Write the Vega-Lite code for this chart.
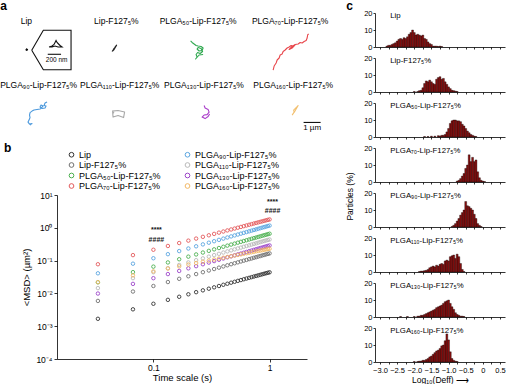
{
  "$schema": "https://vega.github.io/schema/vega-lite/v6.json",
  "padding": 0,
  "datasets": {
    "msd": [
      {"t":0.0333,"Lip":0.00168,"F127":0.0059,"P50":0.0218,"P70":0.0774,"P90":0.041,"P110":0.0145,"P130":0.0099,"P160":0.022},
      {"t":0.0667,"Lip":0.00327,"F127":0.0114,"P50":0.0445,"P70":0.147,"P90":0.0805,"P110":0.0292,"P130":0.0195,"P160":0.0355},
      {"t":0.1,"Lip":0.00483,"F127":0.0168,"P50":0.0655,"P70":0.214,"P90":0.118,"P110":0.0443,"P130":0.0291,"P160":0.047},
      {"t":0.1333,"Lip":0.00636,"F127":0.0222,"P50":0.0878,"P70":0.279,"P90":0.157,"P110":0.0588,"P130":0.0388,"P160":0.0573},
      {"t":0.1667,"Lip":0.00788,"F127":0.0278,"P50":0.11,"P70":0.343,"P90":0.195,"P110":0.0735,"P130":0.0484,"P160":0.0668},
      {"t":0.2,"Lip":0.00939,"F127":0.0333,"P50":0.132,"P70":0.406,"P90":0.234,"P110":0.088,"P130":0.0581,"P160":0.0758},
      {"t":0.2333,"Lip":0.0109,"F127":0.0388,"P50":0.154,"P70":0.469,"P90":0.273,"P110":0.103,"P130":0.0677,"P160":0.0843},
      {"t":0.2667,"Lip":0.0124,"F127":0.0443,"P50":0.176,"P70":0.53,"P90":0.312,"P110":0.117,"P130":0.0774,"P160":0.0924},
      {"t":0.3,"Lip":0.0139,"F127":0.0498,"P50":0.198,"P70":0.591,"P90":0.351,"P110":0.132,"P130":0.087,"P160":0.1},
      {"t":0.3333,"Lip":0.0153,"F127":0.0553,"P50":0.22,"P70":0.652,"P90":0.39,"P110":0.147,"P130":0.0967,"P160":0.108},
      {"t":0.3667,"Lip":0.0168,"F127":0.0609,"P50":0.242,"P70":0.712,"P90":0.429,"P110":0.161,"P130":0.106,"P160":0.115},
      {"t":0.4,"Lip":0.0183,"F127":0.0664,"P50":0.264,"P70":0.771,"P90":0.468,"P110":0.176,"P130":0.116,"P160":0.122},
      {"t":0.4333,"Lip":0.0197,"F127":0.0719,"P50":0.286,"P70":0.831,"P90":0.507,"P110":0.191,"P130":0.126,"P160":0.129},
      {"t":0.4667,"Lip":0.0212,"F127":0.0775,"P50":0.308,"P70":0.889,"P90":0.546,"P110":0.205,"P130":0.135,"P160":0.136},
      {"t":0.5,"Lip":0.0226,"F127":0.083,"P50":0.33,"P70":0.948,"P90":0.585,"P110":0.22,"P130":0.145,"P160":0.143},
      {"t":0.5333,"Lip":0.0241,"F127":0.0885,"P50":0.352,"P70":1.006,"P90":0.624,"P110":0.235,"P130":0.155,"P160":0.149},
      {"t":0.5667,"Lip":0.0255,"F127":0.0941,"P50":0.374,"P70":1.064,"P90":0.663,"P110":0.249,"P130":0.164,"P160":0.155},
      {"t":0.6,"Lip":0.027,"F127":0.0996,"P50":0.396,"P70":1.122,"P90":0.702,"P110":0.264,"P130":0.174,"P160":0.162},
      {"t":0.6333,"Lip":0.0284,"F127":0.105,"P50":0.418,"P70":1.18,"P90":0.741,"P110":0.279,"P130":0.184,"P160":0.168},
      {"t":0.6667,"Lip":0.0298,"F127":0.111,"P50":0.44,"P70":1.237,"P90":0.78,"P110":0.293,"P130":0.193,"P160":0.174},
      {"t":0.7,"Lip":0.0313,"F127":0.116,"P50":0.462,"P70":1.294,"P90":0.819,"P110":0.308,"P130":0.203,"P160":0.18},
      {"t":0.7333,"Lip":0.0327,"F127":0.122,"P50":0.484,"P70":1.351,"P90":0.858,"P110":0.323,"P130":0.213,"P160":0.186},
      {"t":0.7667,"Lip":0.0341,"F127":0.127,"P50":0.506,"P70":1.408,"P90":0.897,"P110":0.337,"P130":0.222,"P160":0.192},
      {"t":0.8,"Lip":0.0355,"F127":0.133,"P50":0.528,"P70":1.465,"P90":0.936,"P110":0.352,"P130":0.232,"P160":0.197},
      {"t":0.8333,"Lip":0.0369,"F127":0.138,"P50":0.55,"P70":1.521,"P90":0.975,"P110":0.367,"P130":0.242,"P160":0.203},
      {"t":0.8667,"Lip":0.0384,"F127":0.144,"P50":0.572,"P70":1.577,"P90":1.014,"P110":0.381,"P130":0.251,"P160":0.208},
      {"t":0.9,"Lip":0.0398,"F127":0.149,"P50":0.594,"P70":1.633,"P90":1.053,"P110":0.396,"P130":0.261,"P160":0.214},
      {"t":0.9333,"Lip":0.0412,"F127":0.155,"P50":0.616,"P70":1.689,"P90":1.092,"P110":0.411,"P130":0.271,"P160":0.219},
      {"t":0.9667,"Lip":0.0426,"F127":0.16,"P50":0.638,"P70":1.745,"P90":1.131,"P110":0.425,"P130":0.28,"P160":0.225},
      {"t":1,"Lip":0.044,"F127":0.166,"P50":0.66,"P70":1.8,"P90":1.17,"P110":0.44,"P130":0.29,"P160":0.23}
    ],
    "traj": [
      {"id":"Lip","o":1,"x":1.53,"y":2.75},{"id":"Lip","o":2,"x":1.62,"y":2.79},{"id":"Lip","o":3,"x":1.58,"y":2.85},{"id":"Lip","o":4,"x":1.52,"y":2.81},{"id":"Lip","o":5,"x":1.57,"y":2.76},{"id":"Lip","o":6,"x":1.6,"y":2.82},
      {"id":"F127","o":1,"x":6.588,"y":2.912},{"id":"F127","o":2,"x":6.647,"y":2.824},{"id":"F127","o":3,"x":6.676,"y":2.765},{"id":"F127","o":4,"x":6.735,"y":2.694},{"id":"F127","o":5,"x":6.794,"y":2.606},{"id":"F127","o":6,"x":6.853,"y":2.541},{"id":"F127","o":7,"x":6.794,"y":2.647},{"id":"F127","o":8,"x":6.706,"y":2.794},{"id":"F127","o":9,"x":6.618,"y":2.882},
      {"id":"P50","o":1,"x":11.206,"y":2.294},{"id":"P50","o":2,"x":11.294,"y":2.382},{"id":"P50","o":3,"x":11.412,"y":2.471},{"id":"P50","o":4,"x":11.529,"y":2.559},{"id":"P50","o":5,"x":11.647,"y":2.588},{"id":"P50","o":6,"x":11.824,"y":2.618},{"id":"P50","o":7,"x":11.941,"y":2.706},{"id":"P50","o":8,"x":11.882,"y":2.853},{"id":"P50","o":9,"x":11.706,"y":2.882},{"id":"P50","o":10,"x":11.588,"y":2.765},{"id":"P50","o":11,"x":11.647,"y":2.676},{"id":"P50","o":12,"x":11.824,"y":2.735},{"id":"P50","o":13,"x":11.912,"y":2.912},{"id":"P50","o":14,"x":11.765,"y":3.029},{"id":"P50","o":15,"x":11.618,"y":2.971},{"id":"P50","o":16,"x":11.529,"y":3.088},{"id":"P50","o":17,"x":11.588,"y":3.235},{"id":"P50","o":18,"x":11.5,"y":3.353},{"id":"P50","o":19,"x":11.706,"y":3.118},{"id":"P50","o":20,"x":11.941,"y":3.088},
      {"id":"P70","o":1,"x":16.059,"y":4.0},{"id":"P70","o":2,"x":16.118,"y":3.765},{"id":"P70","o":3,"x":16.235,"y":3.588},{"id":"P70","o":4,"x":16.294,"y":3.412},{"id":"P70","o":5,"x":16.412,"y":3.294},{"id":"P70","o":6,"x":16.471,"y":3.118},{"id":"P70","o":7,"x":16.588,"y":3.059},{"id":"P70","o":8,"x":16.647,"y":2.912},{"id":"P70","o":9,"x":16.765,"y":2.824},{"id":"P70","o":10,"x":16.882,"y":2.706},{"id":"P70","o":11,"x":17.0,"y":2.647},{"id":"P70","o":12,"x":17.118,"y":2.559},{"id":"P70","o":13,"x":17.235,"y":2.588},{"id":"P70","o":14,"x":17.353,"y":2.529},{"id":"P70","o":15,"x":17.176,"y":2.706},{"id":"P70","o":16,"x":17.0,"y":2.794},{"id":"P70","o":17,"x":17.176,"y":2.618},{"id":"P70","o":18,"x":17.353,"y":2.5},{"id":"P70","o":19,"x":17.529,"y":2.471},{"id":"P70","o":20,"x":17.647,"y":2.382},{"id":"P70","o":21,"x":17.765,"y":2.412},{"id":"P70","o":22,"x":17.882,"y":2.324},{"id":"P70","o":23,"x":18.0,"y":2.265},{"id":"P70","o":24,"x":18.059,"y":2.118},{"id":"P70","o":25,"x":18.088,"y":1.941},{"id":"P70","o":26,"x":18.147,"y":1.871},
      {"id":"P90","o":1,"x":2.765,"y":5.882},{"id":"P90","o":2,"x":2.647,"y":5.941},{"id":"P90","o":3,"x":2.588,"y":6.088},{"id":"P90","o":4,"x":2.706,"y":6.118},{"id":"P90","o":5,"x":2.647,"y":6.235},{"id":"P90","o":6,"x":2.471,"y":6.265},{"id":"P90","o":7,"x":2.353,"y":6.176},{"id":"P90","o":8,"x":2.412,"y":6.059},{"id":"P90","o":9,"x":2.529,"y":6.118},{"id":"P90","o":10,"x":2.353,"y":6.294},{"id":"P90","o":11,"x":2.176,"y":6.324},{"id":"P90","o":12,"x":2.0,"y":6.353},{"id":"P90","o":13,"x":1.882,"y":6.412},{"id":"P90","o":14,"x":1.765,"y":6.5},{"id":"P90","o":15,"x":1.735,"y":6.647},{"id":"P90","o":16,"x":1.765,"y":6.794},{"id":"P90","o":17,"x":1.706,"y":6.941},{"id":"P90","o":18,"x":1.647,"y":7.059},{"id":"P90","o":19,"x":1.735,"y":7.176},{"id":"P90","o":20,"x":1.882,"y":7.147},{"id":"P90","o":21,"x":1.765,"y":7.235},
      {"id":"P110","o":1,"x":6.588,"y":6.412},{"id":"P110","o":2,"x":6.941,"y":6.382},{"id":"P110","o":3,"x":7.324,"y":6.471},{"id":"P110","o":4,"x":7.265,"y":6.794},{"id":"P110","o":5,"x":6.941,"y":6.676},{"id":"P110","o":6,"x":6.647,"y":6.765},{"id":"P110","o":7,"x":6.618,"y":6.441},{"id":"P110","o":8,"x":6.706,"y":6.529},
      {"id":"P130","o":1,"x":12.0,"y":6.088},{"id":"P130","o":2,"x":12.059,"y":6.235},{"id":"P130","o":3,"x":12.235,"y":6.324},{"id":"P130","o":4,"x":12.294,"y":6.471},{"id":"P130","o":5,"x":12.176,"y":6.618},{"id":"P130","o":6,"x":12.0,"y":6.647},{"id":"P130","o":7,"x":11.882,"y":6.765},{"id":"P130","o":8,"x":12.059,"y":6.853},{"id":"P130","o":9,"x":12.235,"y":6.735},{"id":"P130","o":10,"x":12.324,"y":6.588},
      {"id":"P160","o":1,"x":17.176,"y":6.647},{"id":"P160","o":2,"x":17.294,"y":6.471},{"id":"P160","o":3,"x":17.265,"y":6.353},{"id":"P160","o":4,"x":17.382,"y":6.235},{"id":"P160","o":5,"x":17.471,"y":6.147},{"id":"P160","o":6,"x":17.529,"y":6.088},{"id":"P160","o":7,"x":17.412,"y":6.294},{"id":"P160","o":8,"x":17.294,"y":6.5}
    ],
    "guides": [
      {"id":"frame","o":1,"x":1.865,"y":2.841},{"id":"frame","o":2,"x":2.547,"y":1.665},{"id":"frame","o":3,"x":4.176,"y":1.665},{"id":"frame","o":4,"x":4.176,"y":3.982},{"id":"frame","o":5,"x":2.547,"y":3.982},{"id":"frame","o":6,"x":1.865,"y":2.841},
      {"id":"blob","o":1,"x":2.882,"y":2.647},{"id":"blob","o":2,"x":3.059,"y":2.588},{"id":"blob","o":3,"x":3.176,"y":2.5},{"id":"blob","o":4,"x":3.235,"y":2.382},{"id":"blob","o":5,"x":3.294,"y":2.265},{"id":"blob","o":6,"x":3.353,"y":2.382},{"id":"blob","o":7,"x":3.441,"y":2.471},{"id":"blob","o":8,"x":3.529,"y":2.559},{"id":"blob","o":9,"x":3.647,"y":2.647},{"id":"blob","o":10,"x":3.412,"y":2.647},{"id":"blob","o":11,"x":3.235,"y":2.588},{"id":"blob","o":12,"x":3.059,"y":2.647},{"id":"blob","o":13,"x":2.882,"y":2.647},
      {"id":"bar200","o":1,"x":2.806,"y":3.076},{"id":"bar200","o":2,"x":3.588,"y":3.076},
      {"id":"bar1","o":1,"x":17.85,"y":7.08},{"id":"bar1","o":2,"x":18.85,"y":7.08}
    ],
    "alabels": [
      {"label":"Lip","x":1.55,"y":1.135},
      {"label":"Lip-F127₅%","x":6.84,"y":1.135},
      {"label":"PLGA₅₀-Lip-F127₅%","x":11.65,"y":1.135},
      {"label":"PLGA₇₀-Lip-F127₅%","x":17.06,"y":1.135},
      {"label":"PLGA₉₀-Lip-F127₅%","x":2.27,"y":4.865},
      {"label":"PLGA₁₁₀-Lip-F127₅%","x":7.04,"y":4.865},
      {"label":"PLGA₁₃₀-Lip-F127₅%","x":11.99,"y":4.865},
      {"label":"PLGA₁₆₀-Lip-F127₅%","x":17.24,"y":4.865}
    ],
    "hist": [
      {"g":"Lip","v":-2.8,"p":0.5},{"g":"Lip","v":-2.75,"p":1},{"g":"Lip","v":-2.7,"p":1},{"g":"Lip","v":-2.65,"p":1.5},{"g":"Lip","v":-2.6,"p":2},{"g":"Lip","v":-2.55,"p":2.5},{"g":"Lip","v":-2.5,"p":3.5},{"g":"Lip","v":-2.45,"p":4.5},{"g":"Lip","v":-2.4,"p":5},{"g":"Lip","v":-2.35,"p":4.5},{"g":"Lip","v":-2.3,"p":5.5},{"g":"Lip","v":-2.25,"p":5},{"g":"Lip","v":-2.2,"p":6},{"g":"Lip","v":-2.15,"p":7.5},{"g":"Lip","v":-2.1,"p":8.5},{"g":"Lip","v":-2.05,"p":10},{"g":"Lip","v":-2.0,"p":8.5},{"g":"Lip","v":-1.95,"p":7},{"g":"Lip","v":-1.9,"p":7.5},{"g":"Lip","v":-1.85,"p":7},{"g":"Lip","v":-1.8,"p":6.5},{"g":"Lip","v":-1.75,"p":7},{"g":"Lip","v":-1.7,"p":5},{"g":"Lip","v":-1.65,"p":4.5},{"g":"Lip","v":-1.6,"p":3},{"g":"Lip","v":-1.55,"p":2},{"g":"Lip","v":-1.5,"p":1.5},{"g":"Lip","v":-1.45,"p":0.5},{"g":"Lip","v":-1.4,"p":0.5},{"g":"Lip","v":-1.35,"p":0.5},{"g":"Lip","v":-1.3,"p":0.3},{"g":"Lip","v":-1.25,"p":0.5},{"g":"Lip","v":-1.2,"p":0.3},
      {"g":"F127","v":-2.0,"p":0.3},{"g":"F127","v":-1.9,"p":0.3},{"g":"F127","v":-1.85,"p":0.8},{"g":"F127","v":-1.8,"p":1},{"g":"F127","v":-1.75,"p":2.5},{"g":"F127","v":-1.7,"p":5},{"g":"F127","v":-1.65,"p":6.5},{"g":"F127","v":-1.6,"p":6},{"g":"F127","v":-1.55,"p":7},{"g":"F127","v":-1.5,"p":6},{"g":"F127","v":-1.45,"p":5},{"g":"F127","v":-1.4,"p":4.5},{"g":"F127","v":-1.35,"p":7.5},{"g":"F127","v":-1.3,"p":8.5},{"g":"F127","v":-1.25,"p":9},{"g":"F127","v":-1.2,"p":7.5},{"g":"F127","v":-1.15,"p":8},{"g":"F127","v":-1.1,"p":6},{"g":"F127","v":-1.05,"p":4.5},{"g":"F127","v":-1.0,"p":3},{"g":"F127","v":-0.95,"p":2},{"g":"F127","v":-0.9,"p":1},{"g":"F127","v":-0.85,"p":0.8},{"g":"F127","v":-0.8,"p":0.5},{"g":"F127","v":-0.75,"p":0.3},
      {"g":"P50","v":-1.7,"p":0.3},{"g":"P50","v":-1.6,"p":0.3},{"g":"P50","v":-1.5,"p":0.5},{"g":"P50","v":-1.4,"p":0.5},{"g":"P50","v":-1.3,"p":0.8},{"g":"P50","v":-1.25,"p":0.5},{"g":"P50","v":-1.2,"p":1},{"g":"P50","v":-1.15,"p":1},{"g":"P50","v":-1.1,"p":1.5},{"g":"P50","v":-1.05,"p":3},{"g":"P50","v":-1.0,"p":5},{"g":"P50","v":-0.95,"p":8},{"g":"P50","v":-0.9,"p":9.5},{"g":"P50","v":-0.85,"p":10},{"g":"P50","v":-0.8,"p":10},{"g":"P50","v":-0.75,"p":9.5},{"g":"P50","v":-0.7,"p":9.5},{"g":"P50","v":-0.65,"p":9},{"g":"P50","v":-0.6,"p":7.5},{"g":"P50","v":-0.55,"p":6.5},{"g":"P50","v":-0.5,"p":5},{"g":"P50","v":-0.45,"p":3.5},{"g":"P50","v":-0.4,"p":2.5},{"g":"P50","v":-0.35,"p":1.5},{"g":"P50","v":-0.3,"p":1},{"g":"P50","v":-0.25,"p":0.5},{"g":"P50","v":-0.2,"p":0.3},
      {"g":"P70","v":-0.75,"p":0.5},{"g":"P70","v":-0.7,"p":1},{"g":"P70","v":-0.65,"p":2},{"g":"P70","v":-0.6,"p":3.5},{"g":"P70","v":-0.55,"p":5},{"g":"P70","v":-0.5,"p":8},{"g":"P70","v":-0.45,"p":10},{"g":"P70","v":-0.4,"p":16},{"g":"P70","v":-0.35,"p":12},{"g":"P70","v":-0.3,"p":14.5},{"g":"P70","v":-0.25,"p":12},{"g":"P70","v":-0.2,"p":13},{"g":"P70","v":-0.15,"p":6},{"g":"P70","v":-0.1,"p":2.5},{"g":"P70","v":-0.05,"p":1},{"g":"P70","v":0.0,"p":0.5},{"g":"P70","v":0.05,"p":0.3},
      {"g":"P90","v":-0.9,"p":0.3},{"g":"P90","v":-0.85,"p":1},{"g":"P90","v":-0.8,"p":2},{"g":"P90","v":-0.75,"p":3.5},{"g":"P90","v":-0.7,"p":5},{"g":"P90","v":-0.65,"p":7},{"g":"P90","v":-0.6,"p":8.5},{"g":"P90","v":-0.55,"p":10},{"g":"P90","v":-0.5,"p":15},{"g":"P90","v":-0.45,"p":12.5},{"g":"P90","v":-0.4,"p":12},{"g":"P90","v":-0.35,"p":11},{"g":"P90","v":-0.3,"p":10},{"g":"P90","v":-0.25,"p":7.5},{"g":"P90","v":-0.2,"p":5},{"g":"P90","v":-0.15,"p":2},{"g":"P90","v":-0.1,"p":1},{"g":"P90","v":-0.05,"p":0.3},
      {"g":"P110","v":-1.85,"p":0.3},{"g":"P110","v":-1.8,"p":0.5},{"g":"P110","v":-1.75,"p":0.5},{"g":"P110","v":-1.7,"p":0.8},{"g":"P110","v":-1.65,"p":1},{"g":"P110","v":-1.6,"p":1.5},{"g":"P110","v":-1.55,"p":2.5},{"g":"P110","v":-1.5,"p":3},{"g":"P110","v":-1.45,"p":3.5},{"g":"P110","v":-1.4,"p":3},{"g":"P110","v":-1.35,"p":4},{"g":"P110","v":-1.3,"p":3.5},{"g":"P110","v":-1.25,"p":4.5},{"g":"P110","v":-1.2,"p":5},{"g":"P110","v":-1.15,"p":4.5},{"g":"P110","v":-1.1,"p":6.5},{"g":"P110","v":-1.05,"p":7},{"g":"P110","v":-1.0,"p":6.5},{"g":"P110","v":-0.95,"p":9},{"g":"P110","v":-0.9,"p":9.5},{"g":"P110","v":-0.85,"p":10},{"g":"P110","v":-0.8,"p":8},{"g":"P110","v":-0.75,"p":10.5},{"g":"P110","v":-0.7,"p":9},{"g":"P110","v":-0.65,"p":5},{"g":"P110","v":-0.6,"p":1.5},{"g":"P110","v":-0.55,"p":0.3},
      {"g":"P130","v":-2.4,"p":0.3},{"g":"P130","v":-2.2,"p":0.3},{"g":"P130","v":-2.0,"p":0.3},{"g":"P130","v":-1.9,"p":0.5},{"g":"P130","v":-1.85,"p":0.5},{"g":"P130","v":-1.8,"p":1},{"g":"P130","v":-1.75,"p":1},{"g":"P130","v":-1.7,"p":1.5},{"g":"P130","v":-1.65,"p":2},{"g":"P130","v":-1.6,"p":2.5},{"g":"P130","v":-1.55,"p":3},{"g":"P130","v":-1.5,"p":3.5},{"g":"P130","v":-1.45,"p":4},{"g":"P130","v":-1.4,"p":4.5},{"g":"P130","v":-1.35,"p":5.5},{"g":"P130","v":-1.3,"p":6},{"g":"P130","v":-1.25,"p":6.5},{"g":"P130","v":-1.2,"p":7},{"g":"P130","v":-1.15,"p":8},{"g":"P130","v":-1.1,"p":9},{"g":"P130","v":-1.05,"p":9.5},{"g":"P130","v":-1.0,"p":10},{"g":"P130","v":-0.95,"p":8},{"g":"P130","v":-0.9,"p":6},{"g":"P130","v":-0.85,"p":4.5},{"g":"P130","v":-0.8,"p":2.5},{"g":"P130","v":-0.75,"p":1.5},{"g":"P130","v":-0.7,"p":1},{"g":"P130","v":-0.65,"p":0.5},{"g":"P130","v":-0.6,"p":0.5},{"g":"P130","v":-0.55,"p":0.3},
      {"g":"P160","v":-2.0,"p":0.3},{"g":"P160","v":-1.9,"p":0.3},{"g":"P160","v":-1.85,"p":0.5},{"g":"P160","v":-1.8,"p":0.5},{"g":"P160","v":-1.75,"p":1},{"g":"P160","v":-1.7,"p":1},{"g":"P160","v":-1.65,"p":1.5},{"g":"P160","v":-1.6,"p":2},{"g":"P160","v":-1.55,"p":3},{"g":"P160","v":-1.5,"p":3.5},{"g":"P160","v":-1.45,"p":4.5},{"g":"P160","v":-1.4,"p":5.5},{"g":"P160","v":-1.35,"p":6.5},{"g":"P160","v":-1.3,"p":7},{"g":"P160","v":-1.25,"p":8},{"g":"P160","v":-1.2,"p":9.5},{"g":"P160","v":-1.15,"p":10},{"g":"P160","v":-1.1,"p":12.5},{"g":"P160","v":-1.05,"p":16.5},{"g":"P160","v":-1.0,"p":13},{"g":"P160","v":-0.95,"p":6},{"g":"P160","v":-0.9,"p":2},{"g":"P160","v":-0.85,"p":1},{"g":"P160","v":-0.8,"p":0.5},{"g":"P160","v":-0.75,"p":0.3}
    ]
  },
  "hconcat": [
    {
      "vconcat": [
        {
          "width": 250,
          "height": 120,
          "title": {"text": "a", "offset": 0},
          "layer": [
            {
              "data": {"name": "traj"},
              "mark": {"type": "line", "strokeWidth": 1.1, "strokeJoin": "round"},
              "encoding": {
                "x": {"field": "x", "type": "quantitative", "scale": {"domain": [3.35, 18.05], "nice": false, "zero": false}, "axis": null},
                "y": {"field": "y", "type": "quantitative", "scale": {"domain": [0.65, 7.7], "nice": false, "zero": false, "reverse": true}, "axis": null},
                "detail": {"field": "id"},
                "order": {"field": "o"},
                "color": {"field": "id", "type": "nominal", "legend": null,
                  "scale": {"domain": ["Lip","F127","P50","P70","P90","P110","P130","P160"], "range": ["#111111","#222222","#2fa84f","#e8474c","#4a98dc","#a8a8a8","#a93cc9","#f2c070"]}}
              }
            },
            {
              "data": {"name": "guides"},
              "mark": {"type": "line", "strokeWidth": 1.1, "color": "#111111"},
              "encoding": {
                "x": {"field": "x", "type": "quantitative"},
                "y": {"field": "y", "type": "quantitative"},
                "detail": {"field": "id"},
                "order": {"field": "o"}
              }
            },
            {
              "data": {"name": "alabels"},
              "mark": {"type": "text", "fontSize": 8.5, "baseline": "middle", "align": "center", "color": "#000"},
              "encoding": {
                "x": {"field": "x", "type": "quantitative"},
                "y": {"field": "y", "type": "quantitative"},
                "text": {"field": "label"}
              }
            },
            {
              "data": {"values": [{"label": "200 nm", "x": 3.33, "y": 3.4}]},
              "mark": {"type": "text", "fontSize": 6.5, "baseline": "middle", "align": "center", "color": "#000"},
              "encoding": {
                "x": {"field": "x", "type": "quantitative"},
                "y": {"field": "y", "type": "quantitative"},
                "text": {"field": "label"}
              }
            },
            {
              "data": {"values": [{"label": "1 µm", "x": 18.35, "y": 7.42}]},
              "mark": {"type": "text", "fontSize": 8, "baseline": "middle", "align": "center", "color": "#000"},
              "encoding": {
                "x": {"field": "x", "type": "quantitative"},
                "y": {"field": "y", "type": "quantitative"},
                "text": {"field": "label"}
              }
            }
          ]
        },
        {
          "width": 250,
          "height": 164,
          "title": {"text": "b", "dx": -18, "offset": -5},
          "layer": [
            {
              "data": {"name": "msd"},
              "transform": [{"fold": ["Lip","F127","P50","P70","P90","P110","P130","P160"], "as": ["series", "msd"]}],
              "mark": {"type": "point", "shape": "circle", "filled": false, "size": 12, "strokeWidth": 0.9, "opacity": 1},
              "encoding": {
                "x": {"field": "t", "type": "quantitative",
                  "scale": {"type": "log", "domain": [0.0148, 2.1], "nice": false},
                  "axis": {"values": [0.1, 1], "labelExpr": "datum.value < 0.5 ? '0.1' : '1'", "title": "Time scale (s)", "labelFontSize": 8.5, "titleFontSize": 9.5, "tickSize": 3, "labelPadding": 1, "titlePadding": 1}},
                "y": {"field": "msd", "type": "quantitative",
                  "scale": {"type": "log", "domain": [0.0001, 10], "nice": false},
                  "axis": {"values": [0.0001, 0.001, 0.01, 0.1, 1, 10], "labelExpr": "['10⁻⁴','10⁻³','10⁻²','10⁻¹','10⁰','10¹'][round(log(datum.value)/LN10)+4]", "title": "<MSD> (µm²)", "labelFontSize": 8.5, "titleFontSize": 9.5, "tickSize": 3, "labelPadding": 2, "titlePadding": 4}},
                "color": {"field": "series", "type": "nominal",
                  "scale": {"domain": ["Lip","F127","P50","P70","P90","P110","P130","P160"], "range": ["#333333","#707070","#4cb050","#e35a5c","#5aa5e0","#b9b9b9","#9c45c9","#f2b865"]},
                  "legend": {"title": null, "orient": "none", "legendX": 10, "legendY": -45, "columns": 2, "direction": "vertical", "columnPadding": 22, "rowPadding": 0.5, "labelFontSize": 9, "symbolSize": 22, "symbolStrokeWidth": 1, "symbolType": "circle", "labelOffset": 3, "padding": 0,
                    "labelExpr": "datum.label == 'Lip' ? 'Lip' : datum.label == 'F127' ? 'Lip-F127₅%' : datum.label == 'P50' ? 'PLGA₅₀-Lip-F127₅%' : datum.label == 'P70' ? 'PLGA₇₀-Lip-F127₅%' : datum.label == 'P90' ? 'PLGA₉₀-Lip-F127₅%' : datum.label == 'P110' ? 'PLGA₁₁₀-Lip-F127₅%' : datum.label == 'P130' ? 'PLGA₁₃₀-Lip-F127₅%' : 'PLGA₁₆₀-Lip-F127₅%'"}}
              }
            },
            {
              "data": {"values": [{"t": 0.1, "y": 0.85, "s": "****"}, {"t": 0.1, "y": 0.43, "s": "####"}, {"t": 1, "y": 6.2, "s": "****"}, {"t": 1, "y": 3.3, "s": "####"}]},
              "mark": {"type": "text", "fontSize": 7, "fontWeight": "bold", "dx": 3, "baseline": "middle", "color": "#111"},
              "encoding": {
                "x": {"field": "t", "type": "quantitative"},
                "y": {"field": "y", "type": "quantitative"},
                "text": {"field": "s"}
              }
            }
          ]
        }
      ],
      "spacing": 9,
      "resolve": {"scale": {"x": "independent", "y": "independent", "color": "independent"}}
    },
    {
      "title": {"text": "c", "offset": -4},
      "vconcat": [
        {
          "title": {"text": "Particles (%)", "orient": "left", "anchor": "middle", "frame": "bounds", "fontSize": 8.5, "fontWeight": "normal", "offset": 9},
          "spacing": 3,
          "vconcat": [
            {"width": 130, "height": 34,
             "encoding": {"x": {"field": "v", "type": "quantitative", "scale": {"domain": [-3, 0.5], "nice": false, "zero": false}, "axis": {"values": [-3,-2.75,-2.5,-2.25,-2,-1.75,-1.5,-1.25,-1,-0.75,-0.5,-0.25,0,0.25,0.5], "labels": false, "title": null, "tickSize": 2}},
                          "y": {"field": "p", "type": "quantitative", "scale": {"domain": [0, 20], "nice": false}, "axis": {"values": [0, 10, 20], "labelOverlap": false, "labelColor": "#000", "labelOpacity": 1, "title": null, "labelFontSize": 7.5, "tickSize": 2, "labelPadding": 1}}},
             "layer": [
              {"data": {"name": "hist"}, "transform": [{"filter": "datum.g == 'Lip'"}], "mark": {"type": "bar", "width": 1.9, "fill": "#8c0f0f", "stroke": "#000", "strokeWidth": 0.35}},
              {"data": {"values": [{"label": "Lip", "v": -2.7, "p": 18.5}]}, "mark": {"type": "text", "align": "left", "baseline": "middle", "fontSize": 7.8, "color": "#000"}, "encoding": {"text": {"field": "label"}}}
            ]},
            {"width": 130, "height": 34,
             "encoding": {"x": {"field": "v", "type": "quantitative", "scale": {"domain": [-3, 0.5], "nice": false, "zero": false}, "axis": {"values": [-3,-2.75,-2.5,-2.25,-2,-1.75,-1.5,-1.25,-1,-0.75,-0.5,-0.25,0,0.25,0.5], "labels": false, "title": null, "tickSize": 2}},
                          "y": {"field": "p", "type": "quantitative", "scale": {"domain": [0, 20], "nice": false}, "axis": {"values": [0, 10, 20], "labelOverlap": false, "labelColor": "#000", "labelOpacity": 1, "title": null, "labelFontSize": 7.5, "tickSize": 2, "labelPadding": 1}}},
             "layer": [
              {"data": {"name": "hist"}, "transform": [{"filter": "datum.g == 'F127'"}], "mark": {"type": "bar", "width": 1.9, "fill": "#8c0f0f", "stroke": "#000", "strokeWidth": 0.35}},
              {"data": {"values": [{"label": "Lip-F127₅%", "v": -2.7, "p": 18.5}]}, "mark": {"type": "text", "align": "left", "baseline": "middle", "fontSize": 7.8, "color": "#000"}, "encoding": {"text": {"field": "label"}}}
            ]},
            {"width": 130, "height": 34,
             "encoding": {"x": {"field": "v", "type": "quantitative", "scale": {"domain": [-3, 0.5], "nice": false, "zero": false}, "axis": {"values": [-3,-2.75,-2.5,-2.25,-2,-1.75,-1.5,-1.25,-1,-0.75,-0.5,-0.25,0,0.25,0.5], "labels": false, "title": null, "tickSize": 2}},
                          "y": {"field": "p", "type": "quantitative", "scale": {"domain": [0, 20], "nice": false}, "axis": {"values": [0, 10, 20], "labelOverlap": false, "labelColor": "#000", "labelOpacity": 1, "title": null, "labelFontSize": 7.5, "tickSize": 2, "labelPadding": 1}}},
             "layer": [
              {"data": {"name": "hist"}, "transform": [{"filter": "datum.g == 'P50'"}], "mark": {"type": "bar", "width": 1.9, "fill": "#8c0f0f", "stroke": "#000", "strokeWidth": 0.35}},
              {"data": {"values": [{"label": "PLGA₅₀-Lip-F127₅%", "v": -2.7, "p": 18.5}]}, "mark": {"type": "text", "align": "left", "baseline": "middle", "fontSize": 7.8, "color": "#000"}, "encoding": {"text": {"field": "label"}}}
            ]},
            {"width": 130, "height": 34,
             "encoding": {"x": {"field": "v", "type": "quantitative", "scale": {"domain": [-3, 0.5], "nice": false, "zero": false}, "axis": {"values": [-3,-2.75,-2.5,-2.25,-2,-1.75,-1.5,-1.25,-1,-0.75,-0.5,-0.25,0,0.25,0.5], "labels": false, "title": null, "tickSize": 2}},
                          "y": {"field": "p", "type": "quantitative", "scale": {"domain": [0, 20], "nice": false}, "axis": {"values": [0, 10, 20], "labelOverlap": false, "labelColor": "#000", "labelOpacity": 1, "title": null, "labelFontSize": 7.5, "tickSize": 2, "labelPadding": 1}}},
             "layer": [
              {"data": {"name": "hist"}, "transform": [{"filter": "datum.g == 'P70'"}], "mark": {"type": "bar", "width": 1.9, "fill": "#8c0f0f", "stroke": "#000", "strokeWidth": 0.35}},
              {"data": {"values": [{"label": "PLGA₇₀-Lip-F127₅%", "v": -2.7, "p": 18.5}]}, "mark": {"type": "text", "align": "left", "baseline": "middle", "fontSize": 7.8, "color": "#000"}, "encoding": {"text": {"field": "label"}}}
            ]},
            {"width": 130, "height": 34,
             "encoding": {"x": {"field": "v", "type": "quantitative", "scale": {"domain": [-3, 0.5], "nice": false, "zero": false}, "axis": {"values": [-3,-2.75,-2.5,-2.25,-2,-1.75,-1.5,-1.25,-1,-0.75,-0.5,-0.25,0,0.25,0.5], "labels": false, "title": null, "tickSize": 2}},
                          "y": {"field": "p", "type": "quantitative", "scale": {"domain": [0, 20], "nice": false}, "axis": {"values": [0, 10, 20], "labelOverlap": false, "labelColor": "#000", "labelOpacity": 1, "title": null, "labelFontSize": 7.5, "tickSize": 2, "labelPadding": 1}}},
             "layer": [
              {"data": {"name": "hist"}, "transform": [{"filter": "datum.g == 'P90'"}], "mark": {"type": "bar", "width": 1.9, "fill": "#8c0f0f", "stroke": "#000", "strokeWidth": 0.35}},
              {"data": {"values": [{"label": "PLGA₉₀-Lip-F127₅%", "v": -2.7, "p": 18.5}]}, "mark": {"type": "text", "align": "left", "baseline": "middle", "fontSize": 7.8, "color": "#000"}, "encoding": {"text": {"field": "label"}}}
            ]},
            {"width": 130, "height": 34,
             "encoding": {"x": {"field": "v", "type": "quantitative", "scale": {"domain": [-3, 0.5], "nice": false, "zero": false}, "axis": {"values": [-3,-2.75,-2.5,-2.25,-2,-1.75,-1.5,-1.25,-1,-0.75,-0.5,-0.25,0,0.25,0.5], "labels": false, "title": null, "tickSize": 2}},
                          "y": {"field": "p", "type": "quantitative", "scale": {"domain": [0, 20], "nice": false}, "axis": {"values": [0, 10, 20], "labelOverlap": false, "labelColor": "#000", "labelOpacity": 1, "title": null, "labelFontSize": 7.5, "tickSize": 2, "labelPadding": 1}}},
             "layer": [
              {"data": {"name": "hist"}, "transform": [{"filter": "datum.g == 'P110'"}], "mark": {"type": "bar", "width": 1.9, "fill": "#8c0f0f", "stroke": "#000", "strokeWidth": 0.35}},
              {"data": {"values": [{"label": "PLGA₁₁₀-Lip-F127₅%", "v": -2.7, "p": 18.5}]}, "mark": {"type": "text", "align": "left", "baseline": "middle", "fontSize": 7.8, "color": "#000"}, "encoding": {"text": {"field": "label"}}}
            ]},
            {"width": 130, "height": 34,
             "encoding": {"x": {"field": "v", "type": "quantitative", "scale": {"domain": [-3, 0.5], "nice": false, "zero": false}, "axis": {"values": [-3,-2.75,-2.5,-2.25,-2,-1.75,-1.5,-1.25,-1,-0.75,-0.5,-0.25,0,0.25,0.5], "labels": false, "title": null, "tickSize": 2}},
                          "y": {"field": "p", "type": "quantitative", "scale": {"domain": [0, 20], "nice": false}, "axis": {"values": [0, 10, 20], "labelOverlap": false, "labelColor": "#000", "labelOpacity": 1, "title": null, "labelFontSize": 7.5, "tickSize": 2, "labelPadding": 1}}},
             "layer": [
              {"data": {"name": "hist"}, "transform": [{"filter": "datum.g == 'P130'"}], "mark": {"type": "bar", "width": 1.9, "fill": "#8c0f0f", "stroke": "#000", "strokeWidth": 0.35}},
              {"data": {"values": [{"label": "PLGA₁₃₀-Lip-F127₅%", "v": -2.7, "p": 18.5}]}, "mark": {"type": "text", "align": "left", "baseline": "middle", "fontSize": 7.8, "color": "#000"}, "encoding": {"text": {"field": "label"}}}
            ]},
            {"width": 130, "height": 34,
             "encoding": {"x": {"field": "v", "type": "quantitative", "scale": {"domain": [-3, 0.5], "nice": false, "zero": false}, "axis": {"values": [-3,-2.75,-2.5,-2.25,-2,-1.75,-1.5,-1.25,-1,-0.75,-0.5,-0.25,0,0.25,0.5], "labelOverlap": false, "labelExpr": "abs(datum.value * 2 - round(datum.value * 2)) < 0.01 ? (abs(datum.value) < 0.01 ? '0' : format(datum.value, '.1f')) : ''", "title": "Log₁₀(Deff)  ⟶", "labelFontSize": 7.5, "titleFontSize": 8.5, "tickSize": 2, "labelPadding": 2, "titlePadding": 2}},
                          "y": {"field": "p", "type": "quantitative", "scale": {"domain": [0, 20], "nice": false}, "axis": {"values": [0, 10, 20], "labelOverlap": false, "labelColor": "#000", "labelOpacity": 1, "title": null, "labelFontSize": 7.5, "tickSize": 2, "labelPadding": 1}}},
             "layer": [
              {"data": {"name": "hist"}, "transform": [{"filter": "datum.g == 'P160'"}], "mark": {"type": "bar", "width": 1.9, "fill": "#8c0f0f", "stroke": "#000", "strokeWidth": 0.35}},
              {"data": {"values": [{"label": "PLGA₁₆₀-Lip-F127₅%", "v": -2.7, "p": 18.5}]}, "mark": {"type": "text", "align": "left", "baseline": "middle", "fontSize": 7.8, "color": "#000"}, "encoding": {"text": {"field": "label"}}}
            ]}
          ]
        }
      ]
    }
  ],
  "spacing": 12,
  "resolve": {"scale": {"x": "independent", "y": "independent", "color": "independent"}},
  "config": {
    "view": {"stroke": null},
    "font": "Liberation Sans",
    "axis": {"grid": false, "domainColor": "#000", "tickColor": "#000", "labelColor": "#000", "titleColor": "#000", "titleFontWeight": "normal", "domainWidth": 0.8, "tickWidth": 0.8},
    "title": {"anchor": "start", "frame": "bounds", "fontSize": 12, "fontWeight": "bold", "color": "#000"},
    "legend": {"labelColor": "#000"}
  }
}
